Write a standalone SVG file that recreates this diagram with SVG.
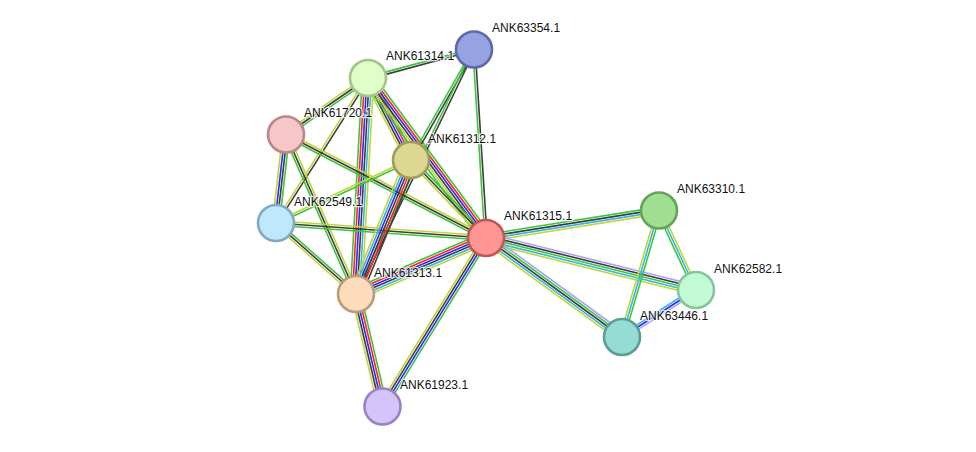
<svg xmlns="http://www.w3.org/2000/svg" width="976" height="452" viewBox="0 0 976 452">
<style>
line{stroke-width:1.6;fill:none}
.g{stroke:#3ec43e}.r{stroke:#ff2424}.b{stroke:#2b2bf5}.k{stroke:#3d3d3d}.c{stroke:#38b4e0}.y{stroke:#c2d43a}.l{stroke:#a6a3ff}
circle{stroke-width:2.6}
text{font-family:"Liberation Sans",Arial,sans-serif;font-size:12px;fill:#111;stroke:#fff;stroke-width:2.5;stroke-opacity:0.75;paint-order:stroke;stroke-linejoin:round}
</style>
<rect width="976" height="452" fill="#fff"/>
<g id="edges">
<!-- N14-N54 -->
<g transform="translate(368,78) rotate(-15.05)"><line x2="109.8" y1="-1.15" y2="-1.15" class="g"/><line x2="109.8" y1="1.15" y2="1.15" class="k"/></g>
<!-- N14-N20 -->
<g transform="translate(368,78) rotate(145.43)"><line x2="99.6" y1="-2.3" y2="-2.3" class="g"/><line x2="99.6" class="k"/><line x2="99.6" y1="2.3" y2="2.3" class="y"/></g>
<!-- N14-N49 -->
<g transform="translate(368,78) rotate(122.4)"><line x2="171.7" y1="-1.15" y2="-1.15" class="k"/><line x2="171.7" y1="1.15" y2="1.15" class="y"/></g>
<!-- N14-N13 -->
<g transform="translate(368,78) rotate(93.18)"><line x2="216.3" y1="-5.75" y2="-5.75" class="y"/><line x2="216.3" y1="-3.45" y2="-3.45" class="c"/><line x2="216.3" y1="-1.15" y2="-1.15" class="k"/><line x2="216.3" y1="1.15" y2="1.15" class="b"/><line x2="216.3" y1="3.45" y2="3.45" class="r"/><line x2="216.3" y1="5.75" y2="5.75" class="g"/></g>
<!-- N14-N12 -->
<g transform="translate(368,78) rotate(62.33)"><line x2="92.6" y1="-4.6" y2="-4.6" class="g"/><line x2="92.6" y1="-2.3" y2="-2.3" class="r"/><line x2="92.6" class="b"/><line x2="92.6" y1="2.3" y2="2.3" class="k"/><line x2="92.6" y1="4.6" y2="4.6" class="y"/></g>
<!-- N14-N15 -->
<g transform="translate(368,78) rotate(53.59)"><line x2="198.8" y1="-5.75" y2="-5.75" class="g"/><line x2="198.8" y1="-3.45" y2="-3.45" class="r"/><line x2="198.8" y1="-1.15" y2="-1.15" class="b"/><line x2="198.8" y1="1.15" y2="1.15" class="k"/><line x2="198.8" y1="3.45" y2="3.45" class="y"/><line x2="198.8" y1="5.75" y2="5.75" class="g"/></g>
<!-- N54-N12 -->
<g transform="translate(474,49.5) rotate(119.69)"><line x2="127.2" y1="-1.15" y2="-1.15" class="k"/><line x2="127.2" y1="1.15" y2="1.15" class="g"/></g>
<!-- N54-N13 -->
<g transform="translate(474,49.5) rotate(115.76)"><line x2="271.5" y1="-1.15" y2="-1.15" class="k"/><line x2="271.5" y1="1.15" y2="1.15" class="g"/></g>
<!-- N54-N15 -->
<g transform="translate(474,49.5) rotate(86.36)"><line x2="188.9" y1="-1.15" y2="-1.15" class="k"/><line x2="188.9" y1="1.15" y2="1.15" class="g"/></g>
<!-- N20-N49 -->
<g transform="translate(286,134.5) rotate(96.45)"><line x2="89.1" y1="-3.45" y2="-3.45" class="g"/><line x2="89.1" y1="-1.15" y2="-1.15" class="k"/><line x2="89.1" y1="1.15" y2="1.15" class="b"/><line x2="89.1" y1="3.45" y2="3.45" class="y"/></g>
<!-- N20-N13 -->
<g transform="translate(286,134.5) rotate(66.31)"><line x2="174.2" y1="-2.3" y2="-2.3" class="y"/><line x2="174.2" class="k"/><line x2="174.2" y1="2.3" y2="2.3" class="g"/></g>
<!-- N20-N15 -->
<g transform="translate(286,134.5) rotate(27.36)"><line x2="225.2" y1="-2.3" y2="-2.3" class="y"/><line x2="225.2" class="k"/><line x2="225.2" y1="2.3" y2="2.3" class="g"/></g>
<!-- N49-N15 -->
<g transform="translate(276,223) rotate(4.09)"><line x2="210.5" y1="-2.3" y2="-2.3" class="y"/><line x2="210.5" class="k"/><line x2="210.5" y1="2.3" y2="2.3" class="g"/></g>
<!-- N49-N13 -->
<g transform="translate(276,223) rotate(41.59)"><line x2="107" y1="-2.3" y2="-2.3" class="g"/><line x2="107" class="k"/><line x2="107" y1="2.3" y2="2.3" class="y"/></g>
<!-- N49-N12 -->
<g transform="translate(276,223) rotate(-25.02)"><line x2="149" y1="-1.15" y2="-1.15" class="y"/><line x2="149" y1="1.15" y2="1.15" class="g"/></g>
<!-- N12-N13 -->
<g transform="translate(411,160) rotate(112.31)"><line x2="144.9" y1="-5.75" y2="-5.75" class="k"/><line x2="144.9" y1="-3.45" y2="-3.45" class="r"/><line x2="144.9" y1="-1.15" y2="-1.15" class="k"/><line x2="144.9" y1="1.15" y2="1.15" class="b"/><line x2="144.9" y1="3.45" y2="3.45" class="c"/><line x2="144.9" y1="5.75" y2="5.75" class="y"/></g>
<!-- N12-N15 -->
<g transform="translate(411,160) rotate(46.12)"><line x2="108.2" y1="-2.3" y2="-2.3" class="g"/><line x2="108.2" class="k"/><line x2="108.2" y1="2.3" y2="2.3" class="y"/></g>
<!-- N13-N15 -->
<g transform="translate(356,294) rotate(-23.3)"><line x2="141.6" y1="-5.75" y2="-5.75" class="g"/><line x2="141.6" y1="-3.45" y2="-3.45" class="r"/><line x2="141.6" y1="-1.15" y2="-1.15" class="b"/><line x2="141.6" y1="1.15" y2="1.15" class="k"/><line x2="141.6" y1="3.45" y2="3.45" class="c"/><line x2="141.6" y1="5.75" y2="5.75" class="y"/></g>
<!-- N13-N23 -->
<g transform="translate(356,294) rotate(76.74)"><line x2="115.6" y1="-4.6" y2="-4.6" class="g"/><line x2="115.6" y1="-2.3" y2="-2.3" class="r"/><line x2="115.6" class="b"/><line x2="115.6" y1="2.3" y2="2.3" class="k"/><line x2="115.6" y1="4.6" y2="4.6" class="y"/></g>
<!-- N15-N23 -->
<g transform="translate(486,238) rotate(121.56)"><line x2="197.8" y1="-3.45" y2="-3.45" class="g"/><line x2="197.8" y1="-1.15" y2="-1.15" class="b"/><line x2="197.8" y1="1.15" y2="1.15" class="k"/><line x2="197.8" y1="3.45" y2="3.45" class="y"/></g>
<!-- N15-N10 -->
<g transform="translate(486,238) rotate(-9.03)"><line x2="175.2" y1="-3.45" y2="-3.45" class="g"/><line x2="175.2" y1="-1.15" y2="-1.15" class="k"/><line x2="175.2" y1="1.15" y2="1.15" class="c"/><line x2="175.2" y1="3.45" y2="3.45" class="y"/></g>
<!-- N15-N82 -->
<g transform="translate(486,238) rotate(13.91)"><line x2="216.3" y1="-4.6" y2="-4.6" class="l"/><line x2="216.3" y1="-2.3" y2="-2.3" class="k"/><line x2="216.3" class="g"/><line x2="216.3" y1="2.3" y2="2.3" class="c"/><line x2="216.3" y1="4.6" y2="4.6" class="y"/></g>
<!-- N15-N46 -->
<g transform="translate(486,238) rotate(36.05)"><line x2="168.2" y1="-4.6" y2="-4.6" class="l"/><line x2="168.2" y1="-2.3" y2="-2.3" class="g"/><line x2="168.2" class="k"/><line x2="168.2" y1="2.3" y2="2.3" class="c"/><line x2="168.2" y1="4.6" y2="4.6" class="y"/></g>
<!-- N10-N82 -->
<g transform="translate(659,210.5) rotate(65.05)"><line x2="87.7" y1="-2.3" y2="-2.3" class="y"/><line x2="87.7" class="c"/><line x2="87.7" y1="2.3" y2="2.3" class="g"/></g>
<!-- N10-N46 -->
<g transform="translate(659,210.5) rotate(106.3)"><line x2="131.8" y1="-2.3" y2="-2.3" class="g"/><line x2="131.8" class="c"/><line x2="131.8" y1="2.3" y2="2.3" class="y"/></g>
<!-- N46-N82 -->
<g transform="translate(622,337) rotate(-32.42)"><line x2="87.7" y1="-2.3" y2="-2.3" class="c"/><line x2="87.7" class="b"/><line x2="87.7" y1="2.3" y2="2.3" class="l"/></g>
</g>
<g id="ANK63354.1"><circle cx="474" cy="49.5" r="18" fill="#97a2e0" stroke="#5c6aad"/><text x="492" y="32">ANK63354.1</text></g>
<g id="ANK61314.1"><circle cx="368" cy="78" r="18" fill="#e0ffc8" stroke="#a5c48a"/><text x="386" y="60">ANK61314.1</text></g>
<g id="ANK61720.1"><circle cx="286" cy="134.5" r="18" fill="#f7c6c6" stroke="#b88888"/><text x="304" y="117">ANK61720.1</text></g>
<g id="ANK61312.1"><circle cx="411" cy="160" r="18" fill="#dcd893" stroke="#a09c5c"/><text x="428" y="143">ANK61312.1</text></g>
<g id="ANK62549.1"><circle cx="276" cy="223" r="18" fill="#c0e8fc" stroke="#82aac4"/><text x="294" y="206">ANK62549.1</text></g>
<g id="ANK61315.1"><circle cx="486" cy="238" r="18" fill="#ff9595" stroke="#c05656"/><text x="504" y="220">ANK61315.1</text></g>
<g id="ANK63310.1"><circle cx="659" cy="210.5" r="18" fill="#9fdf8f" stroke="#64a45a"/><text x="677" y="193">ANK63310.1</text></g>
<g id="ANK62582.1"><circle cx="696" cy="290" r="18" fill="#c2fad5" stroke="#86c69c"/><text x="714" y="273">ANK62582.1</text></g>
<g id="ANK63446.1"><circle cx="622" cy="337" r="18" fill="#96dcd4" stroke="#5a9e95"/><text x="640" y="320">ANK63446.1</text></g>
<g id="ANK61313.1"><circle cx="356" cy="294" r="18" fill="#fddcbc" stroke="#b99a7a"/><text x="374" y="277">ANK61313.1</text></g>
<g id="ANK61923.1"><circle cx="382.5" cy="406.5" r="18" fill="#d4c4fb" stroke="#9a82c6"/><text x="400" y="389">ANK61923.1</text></g>
</svg>
